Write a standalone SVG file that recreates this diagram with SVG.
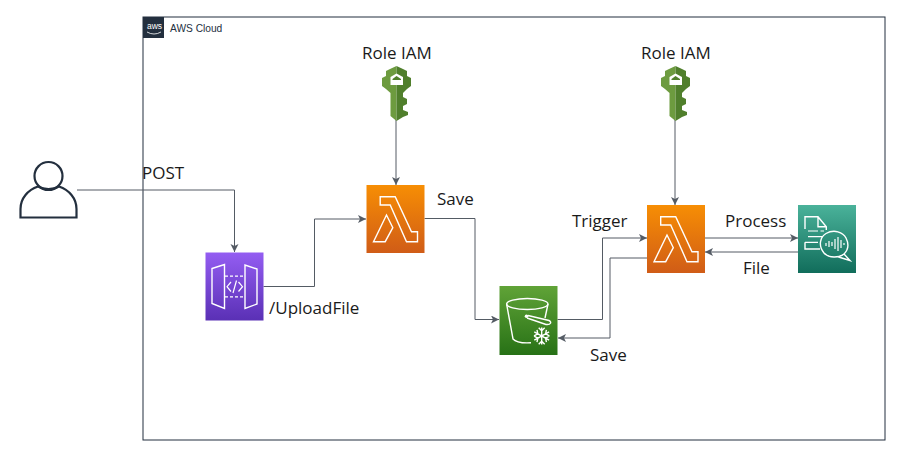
<svg xmlns="http://www.w3.org/2000/svg" width="903" height="464" viewBox="0 0 903 464">
<style>
text{font-family:"Open Sans","Noto Sans",sans-serif;font-size:17px;fill:#1a1a1a}
.c{fill:none;stroke:#545b64;stroke-width:1}
.w{fill:none;stroke:#fff;stroke-width:1.4;stroke-linejoin:miter}
.wt{fill:none;stroke:#fff;stroke-width:1.2}
</style>
<defs>
<marker id="a" markerUnits="userSpaceOnUse" markerWidth="9" markerHeight="9" refX="8" refY="4" orient="auto"><path d="M0,0L8,4L0,8L2,4Z" fill="#545b64"/></marker>
<linearGradient id="or" x1="0" y1="0" x2="0" y2="1"><stop offset="0" stop-color="#f78e04"/><stop offset="1" stop-color="#d05c17"/></linearGradient>
<linearGradient id="pu" x1="0" y1="0" x2="0" y2="1"><stop offset="0" stop-color="#945df2"/><stop offset="1" stop-color="#5a30b5"/></linearGradient>
<linearGradient id="gr" x1="0" y1="0" x2="0" y2="1"><stop offset="0" stop-color="#60a337"/><stop offset="1" stop-color="#277116"/></linearGradient>
<linearGradient id="te" x1="0" y1="0" x2="0" y2="1"><stop offset="0" stop-color="#4ab29a"/><stop offset="1" stop-color="#116d5b"/></linearGradient>
<g id="lam">
<rect width="58" height="68" fill="url(#or)"/>
<path class="w" d="M13.700,11.700V20H23.700L40,56.700H51V46.700H45L28.700,11.700ZM20,30L7,56.700H18.700L26.300,42.700Z"/>
</g>
<g id="key">
<path d="M14.500,0L8,3L4,5V10L0,12V20L4,23L8.500,27V50L14.500,55Z" fill="#6d9b3f"/>
<path d="M14.500,0L21,3L25,5V10L29,12V20L25,23L21,27V31L25,33V38L21,40V44L26,46V49L21,51L14.500,55Z" fill="#507f2c"/>
<path d="M8.500,19V11L14.500,7.500L21,11V19Z" fill="#fff"/>
<path d="M10.500,13L14.500,10L19,13V14H10.500Z" fill="#507f2c"/>
</g>
</defs>
<rect width="903" height="464" fill="#fff"/>
<g id="cloud">
<rect x="143" y="17" width="742" height="423" fill="none" stroke="#232f3e" stroke-width="1"/>
<rect x="143" y="17" width="21" height="21" fill="#232f3e"/>
<text x="147" y="29" style="font-family:'Liberation Sans',sans-serif;font-size:8.500px;fill:#fff">aws</text>
<path d="M147,32Q154,36 161,32" fill="none" stroke="#fff" stroke-width="0.800"/>
<text x="170" y="32" style="font-family:'Liberation Sans',sans-serif;font-size:10.200px;fill:#232f3e">AWS Cloud</text>
</g>
<g id="connectors">
<path class="c" marker-end="url(#a)" d="M77,190H234.500V252"/>
<path class="c" marker-end="url(#a)" d="M263.500,286.500H314.500V219H366"/>
<path class="c" marker-end="url(#a)" d="M424.500,218.500H475V319.500H499"/>
<path class="c" marker-end="url(#a)" d="M557.500,319.500H602.500V238H647"/>
<path class="c" marker-end="url(#a)" d="M647,258H610V338H558"/>
<path class="c" marker-end="url(#a)" d="M705,238H798"/>
<path class="c" marker-end="url(#a)" d="M798,252H705"/>
<path class="c" marker-end="url(#a)" d="M396,120V185"/>
<path class="c" marker-end="url(#a)" d="M675,120V205"/>
</g>
<g id="user">
<circle cx="48.500" cy="176" r="14" fill="#fff" stroke="#232f3e" stroke-width="2.200"/>
<path d="M20.500,217.500V209C20.500,198 28,190 38,186.500C44,190 53,190 59,186.500C69,190 76.500,198 76.500,209V217.500Z" fill="none" stroke="#232f3e" stroke-width="2.200"/>
</g>
<g id="post"><text x="142" y="179">POST</text></g>
<g id="apigw">
<rect x="205.500" y="252.500" width="58" height="68" fill="url(#pu)"/>
<path class="w" d="M212,268.500L224.500,264.500V308.500L212,303.500ZM257,269L245,265V308.500L257,304Z"/>
<path class="wt" stroke-dasharray="3,2" d="M225,276.200H244.500M225,296.800H244.500"/>
<path class="wt" d="M231,282L227,286.700L231,291.500M238.500,282L242.500,286.700L238.500,291.500M236.500,280.500L233,293"/>
<text x="269" y="314">/UploadFile</text>
</g>
<g id="lambda1">
<use href="#lam" x="366.500" y="185"/>
<text x="437" y="205">Save</text>
</g>
<g id="role1">
<text x="362" y="59">Role IAM</text>
<use href="#key" x="382" y="66"/>
</g>
<g id="bucket">
<rect x="499.500" y="286" width="58" height="69" fill="url(#gr)"/>
<ellipse cx="527.300" cy="304" rx="20.700" ry="5.500" class="w"/>
<path class="w" d="M506.600,304L513,339C516,342.500 524,343.200 531,342.800M548,304L545,318"/>
<path class="w" d="M528,315.500L549,320.500C552,322 551,325 546,324.500L527,318"/>
<circle cx="526.500" cy="316.300" r="1.800" fill="#fff"/>
<path class="w" d="M541.700,327.500V344.500M534.300,331.800L549.100,340.200M534.300,340.200L549.100,331.800M538.700,327.800L541.700,330.800L544.700,327.800M538.700,344.200L541.700,341.200L544.700,344.200M534,335.800L537.800,333.800L537,329.800M549.400,335.800L545.600,333.800L546.400,329.800M534,336.200L537.800,338.200L537,342.200M549.400,336.200L545.600,338.200L546.400,342.200"/>
<text x="590" y="361">Save</text>
</g>
<g id="lambda2">
<use href="#lam" x="647" y="205"/>
<text x="572" y="227">Trigger</text>
</g>
<g id="role2">
<text x="641" y="59">Role IAM</text>
<use href="#key" x="661" y="66"/>
</g>
<g id="comprehend">
<rect x="798" y="205" width="58" height="68" fill="url(#te)"/>
<path class="w" d="M805,229V216.700H818L826.300,226.700V230M818,216.700V226.700H826.300M805,242.300V249H820"/>
<path class="wt" d="M808,231H818M820.500,231H824M808,236.700H823M805,242.300H818"/>
<path class="w" d="M844,254C839,258 829,258.500 824,253C818,246 820,237 826,233.500C834,229 843,232 846,238C849,244 848,250 844,254L850,260.500L838.500,257"/>
<path class="wt" d="M826,243V246M829,241V247M832,242V246M835,239V249M838,237V251M841,240V248M844,243V245"/>
<text x="725" y="227">Process</text>
<text x="743" y="274">File</text>
</g>
</svg>
